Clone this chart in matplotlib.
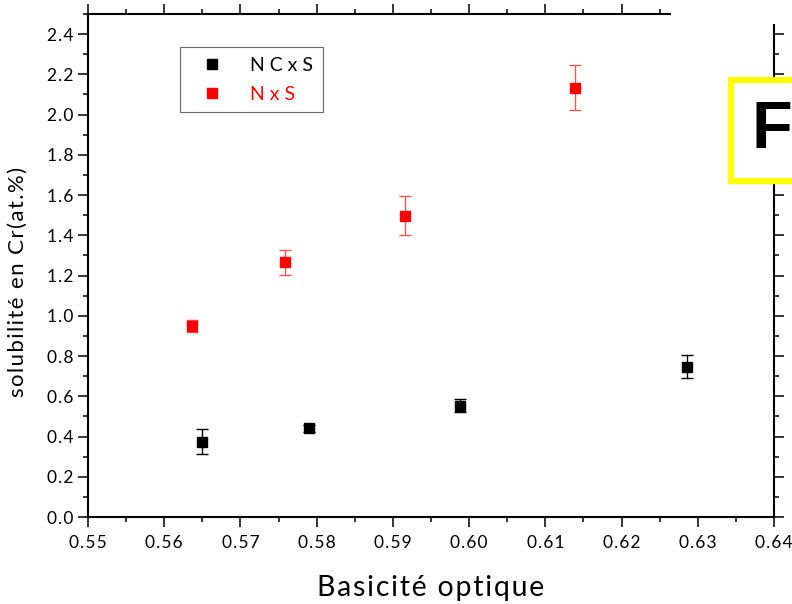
import numpy as np
import matplotlib
matplotlib.use('Agg')
import matplotlib.pyplot as plt
from matplotlib.patches import Rectangle
from matplotlib.ticker import MultipleLocator, FuncFormatter

plt.rcParams['font.family'] = ['Lato', 'DejaVu Sans']

# données
x_ncxs = [0.5649, 0.5790, 0.5988, 0.6286]
y_ncxs = [0.375, 0.441, 0.554, 0.748]
err_ncxs = [0.060, 0.018, 0.030, 0.057]

x_nxs = [0.5636, 0.5759, 0.5916, 0.6139]
y_nxs = [0.950, 1.265, 1.497, 2.133]
err_nxs = [0.030, 0.060, 0.097, 0.112]


def spaced(s, sep='\u200a'):
    return sep.join(s)


fig = plt.figure(figsize=(7.92, 6.04), dpi=100)
ax = fig.add_axes([88 / 792, 1 - 517 / 604, (774 - 88) / 792, (517 - 14) / 604])

eb1 = ax.errorbar(x_ncxs, y_ncxs, yerr=err_ncxs, fmt='s', color='black', ms=6.5,
                  ecolor='black', elinewidth=1, capsize=4.5, capthick=1)
eb2 = ax.errorbar(x_nxs, y_nxs, yerr=err_nxs, fmt='s', color='#ff0000', ms=6.5,
                  ecolor='#ff5555', elinewidth=1, capsize=4.5, capthick=1)

ax.set_xlim(0.55, 0.64)
ax.set_ylim(0, 2.5)
ax.xaxis.set_major_locator(MultipleLocator(0.01))
ax.xaxis.set_minor_locator(MultipleLocator(0.005))
ax.yaxis.set_major_locator(MultipleLocator(0.2))
ax.yaxis.set_minor_locator(MultipleLocator(0.1))
ax.xaxis.set_major_formatter(FuncFormatter(lambda v, p: spaced('%.2f' % v)))
ax.yaxis.set_major_formatter(FuncFormatter(lambda v, p: spaced('%.1f' % v)))

for sp in ax.spines.values():
    sp.set_linewidth(1.5)
ax.tick_params(which='both', direction='out', top=True, right=True, width=1.1)
ax.tick_params(which='major', length=7.2, labelsize=12.5, pad=6)
ax.tick_params(which='minor', length=3.6)
ax.tick_params(axis='y', which='major', pad=3)

ax.set_xlabel(spaced('Basicité optique'), fontsize=20.5, labelpad=17)
ax.set_ylabel(spaced('solubilité en Cr(at.%)'), fontsize=16)
ax.yaxis.set_label_coords(-0.087, 0.467)

leg = ax.legend([eb1[0], eb2[0]], [spaced('NCxS', ' '), spaced('NxS', ' ')],
                loc='upper left', bbox_to_anchor=(0.134, 0.934), frameon=True, fancybox=False,
                fontsize=14, handlelength=2.3, handletextpad=0.8, borderpad=0.5,
                borderaxespad=0, labelspacing=0.6, edgecolor='#444444', markerscale=1.15)
leg.get_frame().set_linewidth(0.8)
leg.get_texts()[1].set_color('#ff0000')

# coin supérieur droit masqué par une autre image dans l'original
W, H = 792, 604
fig.patches.append(Rectangle((671 / W, 1 - 24 / H), (W - 671) / W, 24 / H,
                             transform=fig.transFigure, facecolor='white', edgecolor='none', zorder=5))
fig.patches.append(Rectangle((731 / W, 1 - 181 / H), 80 / W, 101 / H,
                             transform=fig.transFigure, facecolor='white', edgecolor='#ffff00',
                             linewidth=4.5, zorder=6))
fig.text(751 / W, 1 - 131 / H, 'F', fontsize=48, fontweight='bold', family='Liberation Sans',
         va='center', ha='left', zorder=7)

fig.savefig('out.png', dpi=100)
